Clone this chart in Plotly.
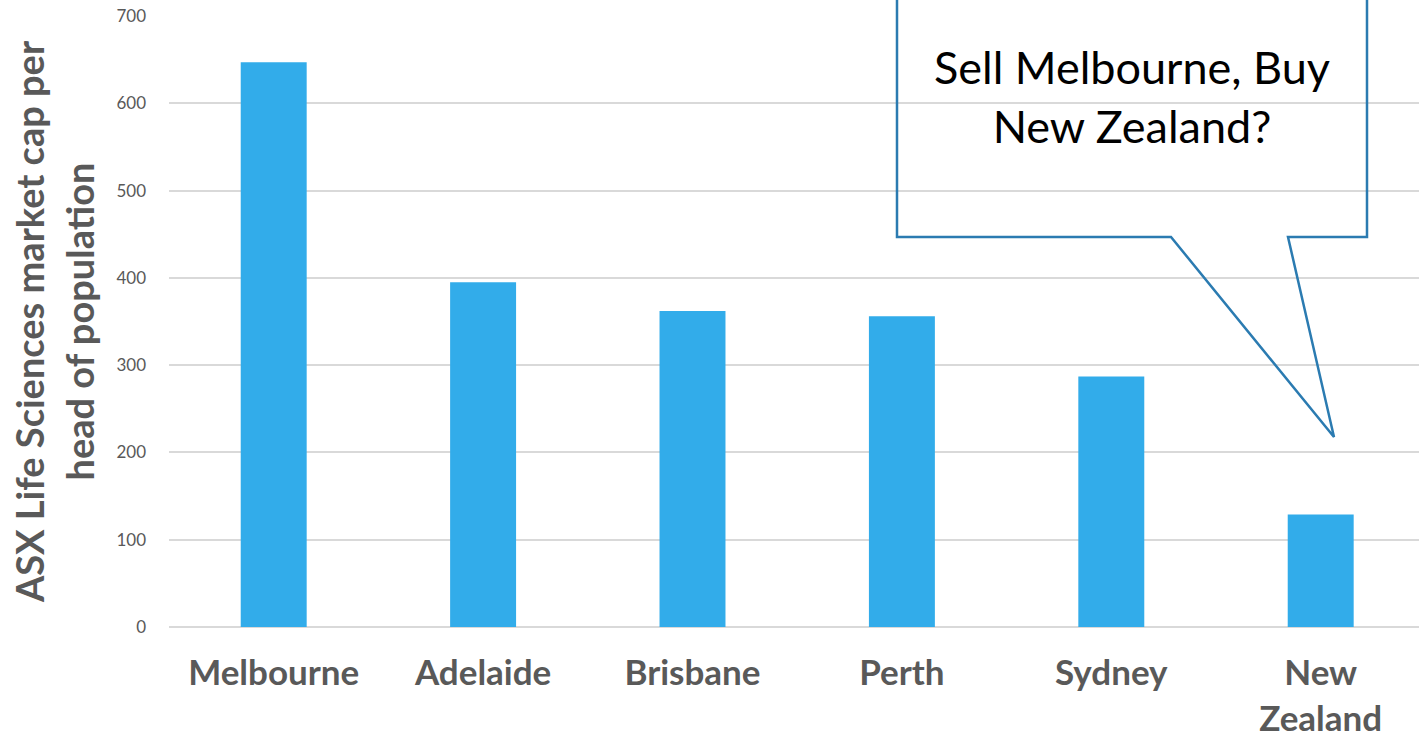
import plotly.graph_objects as go

categories = ["Melbourne", "Adelaide", "Brisbane", "Perth", "Sydney", "New<br>Zealand"]
values = [647, 395, 362, 356, 287, 129]
y_ticks = [0, 100, 200, 300, 400, 500, 600, 700]
y_title = "ASX Life Sciences market cap per<br>head of population"
callout_text = "Sell Melbourne, Buy<br>New Zealand?"

W, H = 1419, 742
PL, PR, PT, PB = 169, 1419, 16, 627          # plot area in pixels
L, R, T, B = PL, W - PR, PT, H - PB
CAT_W = 209.4                                 # pixel width of one category slot
x_range = [-0.5, -0.5 + (PR - PL) / CAT_W]

def px(x):
    return (x - PL) / (PR - PL)

def py(y):
    return (PB - y) / (PB - PT)

fig = go.Figure(go.Bar(
    x=categories, y=values,
    marker=dict(color="#32ACEA", line=dict(width=0)),
))

# speech-bubble callout (pixel layout -> paper coords)
pts = [(897, -10), (1367, -10), (1367, 237), (1288, 237), (1334, 437),
       (1171, 237), (897, 237)]
path = "M " + " L ".join(f"{px(x):.5f},{py(y):.5f}" for x, y in pts) + " Z"
fig.add_shape(type="path", path=path, xref="paper", yref="paper",
              line=dict(color="#2B7BB1", width=2.5), fillcolor="rgba(255,255,255,0)",
              layer="above")
fig.add_annotation(text=callout_text, xref="paper", yref="paper",
                   x=px(1132), y=py(97), xanchor="center", yanchor="middle",
                   showarrow=False, align="center",
                   font=dict(family="Lato", size=45, color="#000000"))

fig.update_layout(
    width=W, height=H,
    margin=dict(l=L, r=R, t=T, b=B, autoexpand=False),
    paper_bgcolor="white", plot_bgcolor="white",
    bargap=0.685,
    showlegend=False,
    xaxis=dict(
        range=x_range, automargin=False,
        tickfont=dict(family="Lato", size=35, color="#595959", weight="bold"),
        showgrid=False, showline=False, zeroline=False,
        ticks="", ticklabelstandoff=22,
    ),
    yaxis=dict(
        range=[0, 700], tickvals=y_ticks, automargin=False,
        tickfont=dict(family="Lato", size=17, color="#595959"),
        showgrid=True, gridcolor="#D9D9D9", gridwidth=1.5,
        zeroline=True, zerolinecolor="#D9D9D9", zerolinewidth=1.5,
        showline=False, ticks="", ticklabelstandoff=22,
        title=dict(text=y_title, standoff=10,
                   font=dict(family="Lato", size=38, color="#595959", weight="bold")),
    ),
)

fig.write_html("out.html", config={"displayModeBar": False},
               post_script="document.body.style.margin='0';document.body.style.overflow='hidden';")
